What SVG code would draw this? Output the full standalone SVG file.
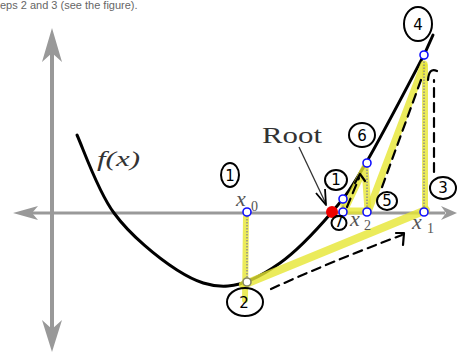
<svg xmlns="http://www.w3.org/2000/svg" width="458" height="354" viewBox="0 0 458 354">
<defs>
<style>
.axis{stroke:#999;fill:none}
.axhead{fill:#999}
.curve{stroke:#000;stroke-width:3;fill:none;stroke-linecap:round}
.hl{stroke:#e6e632;stroke-opacity:0.8;fill:none;stroke-linecap:round;stroke-linejoin:round}
.dot{stroke:#888;stroke-width:1.4;stroke-dasharray:1.5 1.5;fill:none}
.pt{fill:#fff;stroke:#1010ff;stroke-width:1.6}
.dash{stroke:#000;stroke-width:2.2;fill:none;stroke-dasharray:9 6;stroke-linecap:round}
.ink{stroke:#000;stroke-width:2.2;fill:none;stroke-linecap:round;stroke-linejoin:round}
.ring{stroke:#000;stroke-width:2;fill:none}
.num{font-family:"DejaVu Sans",sans-serif;font-size:15px;fill:#000;text-anchor:middle}
.math{font-family:"Liberation Serif",serif;font-style:italic;fill:#555}
.sub{font-family:"Liberation Serif",serif;fill:#555}
</style>
</defs>
<rect width="458" height="354" fill="#fff"/>
<text x="0" y="9" font-family="Liberation Sans, sans-serif" font-size="11" fill="#666">eps 2 and 3 (see the figure).</text>

<g id="axes">
<line class="axis" x1="52" y1="50" x2="52" y2="332" stroke-width="4"/>
<line class="axis" x1="30" y1="213" x2="445" y2="213" stroke-width="3"/>
<polygon class="axhead" points="52,28 62,62 52,53 42,62"/>
<polygon class="axhead" points="52,352 62,320 52,329 42,320"/>
<polygon class="axhead" points="13,213 38,206 32,213 38,220"/>
<polygon class="axhead" points="457,213 441,206 446,213 441,220"/>
</g>

<g id="function-curve">
<path class="curve" d="M77,135 C83,148 98,192 114,213 C130,235 157.8,257.8 177,270 C196.2,282.2 210.8,287.2 228,286 C245.2,284.8 262.7,275.3 280,263 C297.3,250.7 317.7,228.7 332,212 C346.3,195.3 350.7,189.2 366,163 C381.3,136.8 412.8,76.2 424,55 L433,35"/>
<text x="97" y="166" font-family="Liberation Serif, serif" font-style="italic" font-size="22" fill="#333" textLength="43" lengthAdjust="spacingAndGlyphs">f(x)</text>
</g>

<g id="highlights">
<line class="hl" x1="246" y1="217" x2="245" y2="300" stroke-width="6"/>
<line class="hl" x1="243" y1="285" x2="426" y2="210" stroke-width="8"/>
<line class="hl" x1="425" y1="210" x2="425" y2="66" stroke-width="6"/>
<line class="hl" x1="424" y1="64" x2="368" y2="212" stroke-width="7"/>
<path class="hl" d="M344,211 L365,167 L368,211 Z" stroke-width="7" fill="#e6e632" fill-opacity="0.7"/>
<line class="hl" x1="343" y1="199" x2="343" y2="212" stroke-width="5"/>
</g>

<g id="connectors">
<line class="dot" x1="247" y1="213" x2="247" y2="281"/>
<line class="dot" x1="424" y1="213" x2="424" y2="55"/>
<line class="dot" x1="367" y1="213" x2="367" y2="163"/>
<line class="dot" x1="343" y1="213" x2="343" y2="199"/>
<path class="dash" d="M271,289 Q330,262 402,235"/>
<path class="ink" d="M396,233 L404,233 L403,245"/>
<path class="dash" d="M434,172 L434,80"/>
<path class="ink" d="M428,80 Q429,67 437,71"/>
<path class="dash" d="M421,80 L381,190"/>
<path class="dash" d="M347,207 L359,178"/>
<path class="ink" d="M355,183 L360,174 L365,181"/>
<line x1="299" y1="147" x2="326" y2="204" stroke="#333" stroke-width="1.3"/>
<path d="M316,193 L326,205 L325,189" stroke="#000" stroke-width="1.8" fill="none" stroke-linejoin="round"/>
</g>

<g id="points">
<circle cx="247" cy="282" r="4" fill="#fff" stroke="#888860" stroke-width="1.6"/>
<circle class="pt" cx="247" cy="212" r="4"/>
<circle class="pt" cx="424" cy="212" r="4"/>
<circle class="pt" cx="367" cy="212" r="4"/>
<circle class="pt" cx="343" cy="212" r="4"/>
<circle class="pt" cx="343" cy="199" r="4"/>
<circle class="pt" cx="367" cy="163" r="4"/>
<circle class="pt" cx="424" cy="55" r="4"/>
<circle id="root" cx="332" cy="212" r="6" fill="#ee0000"/>
</g>

<g id="labels">
<text class="math" x="236" y="206" font-size="22">x</text>
<text class="sub" x="251" y="211" font-size="14">0</text>
<text class="math" x="412" y="229" font-size="22">x</text>
<text class="sub" x="427" y="233" font-size="14">1</text>
<text class="math" x="350" y="226" font-size="22">x</text>
<text class="sub" x="364" y="230" font-size="14">2</text>
<text x="262" y="143" font-family="Liberation Serif, serif" font-size="24" fill="#333" textLength="60" lengthAdjust="spacingAndGlyphs">Root</text>
</g>

<g id="step1"><ellipse class="ring" cx="230" cy="175" rx="9" ry="12"/><text class="num" x="230" y="181">1</text></g>
<g id="step2"><ellipse class="ring" cx="245" cy="302" rx="18" ry="14"/><text class="num" x="244" y="308">2</text></g>
<g id="step3"><ellipse class="ring" cx="443" cy="188" rx="13" ry="11"/><text class="num" x="443" y="193">3</text></g>
<g id="step4"><ellipse class="ring" cx="418" cy="24" rx="14" ry="17"/><text class="num" x="418" y="30" font-size="18">4</text></g>
<g id="step5"><ellipse class="ring" cx="387" cy="201" rx="10" ry="9"/><text class="num" x="387" y="206">5</text></g>
<g id="step6"><ellipse class="ring" cx="362" cy="135" rx="13" ry="12"/><text class="num" x="362" y="141" font-size="16">6</text></g>
<g id="step7"><ellipse class="ring" cx="339" cy="223" rx="7.5" ry="7"/><text class="num" x="339" y="227" font-size="11">7</text></g>
<g id="step8"><ellipse class="ring" cx="336" cy="180" rx="11" ry="10"/><text class="num" x="336" y="185">1</text></g>
</svg>
